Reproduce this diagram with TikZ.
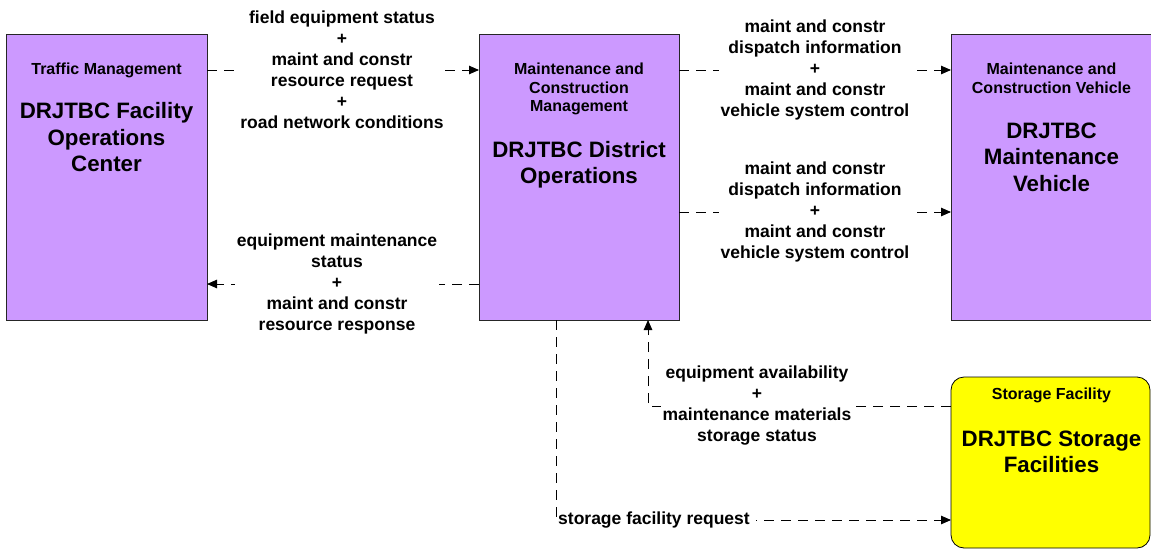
\documentclass[tikz,border=0pt]{standalone}
\usepackage{fontspec}
\setmainfont{Liberation Sans}
\usetikzlibrary{arrows.meta}
\definecolor{boxpurple}{HTML}{CC99FF}
\definecolor{boxyellow}{HTML}{FFFF00}
\begin{document}
\begin{tikzpicture}[x=1pt,y=-1pt,
  box/.style={draw=black!85, line width=0.8pt, fill=boxpurple, anchor=north west, inner sep=0pt, outer sep=0pt},
  storebox/.style={box, fill=boxyellow, draw=black, rounded corners=13pt},
  conn/.style={line width=0.9pt, dash pattern=on 10pt off 7pt, -{Triangle[length=10pt,width=8.5pt]}},
  lbl/.style={fill=white, inner sep=1.5pt, align=center, font=\bfseries\fontsize{17.5}{21}\selectfont},
  smalltitle/.style={anchor=north, align=center, inner sep=0pt, font=\bfseries\fontsize{16}{18.5}\selectfont},
  bigtitle/.style={anchor=north, align=center, inner sep=0pt, font=\bfseries\fontsize{22.3}{26.5}\selectfont}]
\useasboundingbox (0,0) rectangle (1151,549);
% boxes
\node[box, minimum width=201pt, minimum height=286pt] (L) at (6,34) {};
\node[box, minimum width=200pt, minimum height=286pt] (M) at (479,34) {};
\node[box, minimum width=200pt, minimum height=286pt] (R) at (951,34) {};
\node[storebox, minimum width=199pt, minimum height=171pt] (S) at (951,377) {};
% titles
\node[smalltitle] (Lt) at (106.5,63) {Traffic Management};
\node[bigtitle] (Lb) at (106.5,102.5) {DRJTBC Facility\\Operations\\Center};
\node[smalltitle] (Mt) at (579,63) {Maintenance and\\Construction\\Management};
\node[bigtitle] (Mb) at (579,141) {DRJTBC District\\Operations};
\node[smalltitle] (Rt) at (1051.5,63) {Maintenance and\\Construction Vehicle};
\node[bigtitle] (Rb) at (1051.5,122.5) {DRJTBC\\Maintenance\\Vehicle};
\node[smalltitle] (St) at (1051.5,388) {Storage Facility};
\node[bigtitle] (Sb) at (1051.5,430.5) {DRJTBC Storage\\Facilities};
% levels
\coordinate (y70) at (0,70);
\coordinate (y212) at (0,212);
\coordinate (y284) at (0,284);
\coordinate (y406) at (0,406);
\coordinate (y520) at (0,520);
\coordinate (x648) at (648,0);
\coordinate (x556) at (556,0);
% connectors
\draw[conn] (L.east |- y70) -- (M.west |- y70);
\draw[conn] (M.east |- y70) -- (R.west |- y70);
\draw[conn] (M.east |- y212) -- (R.west |- y212);
\draw[conn] (M.west |- y284) -- (L.east |- y284);
\draw[conn] (S.west |- y406) -| (M.south -| x648);
\draw[conn] (M.south -| x556) |- (S.west |- y520);
% labels
\node[lbl] (l1) at (342,69.5) {field equipment status\\+\\maint and constr\\resource request\\+\\road network conditions};
\node[lbl] (l2) at (815,69.5) {maint and constr\\dispatch information\\+\\maint and constr\\vehicle system control};
\node[lbl] (l3) at (815,211.5) {maint and constr\\dispatch information\\+\\maint and constr\\vehicle system control};
\node[lbl] (l4) at (337,283.5) {equipment maintenance\\status\\+\\maint and constr\\resource response};
\node[lbl] (l5) at (757,405.5) {equipment availability\\+\\maintenance materials\\storage status};
\node[lbl, anchor=west, inner sep=1pt] (l6) at (557,520) {storage facility request\hspace{5pt}};
\end{tikzpicture}
\end{document}
